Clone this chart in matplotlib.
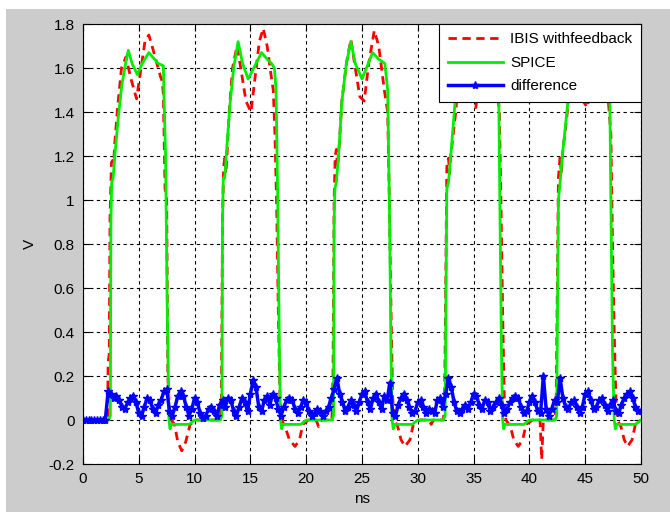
import numpy as np
import matplotlib.pyplot as plt
from matplotlib.patches import Rectangle

plt.rcParams['font.family'] = ['Liberation Sans', 'DejaVu Sans']

# ================= DATA =================

spice_t = [0, 2.3, 2.45, 2.5, 2.57, 2.7, 2.85, 3.17, 3.47, 3.85, 4.06, 4.4, 4.87, 5.3, 5.9, 6.75, 7.2, 7.25, 7.4, 7.55, 7.7, 7.8, 7.9, 9.5, 10.0,
           12.3, 12.45, 12.5, 12.57, 12.7, 12.9, 13.2, 13.5, 13.9, 14.3, 14.8, 15.3, 16.0, 16.5, 16.9, 17.15, 17.3, 17.45, 17.6, 17.7, 17.8, 17.9, 19.5, 20.0,
           22.3, 22.45, 22.5, 22.57, 22.7, 22.9, 23.2, 23.6, 24.0, 24.4, 25.0, 25.4, 25.95, 26.5, 27.05, 27.3, 27.45, 27.6, 27.7, 27.8, 27.9, 29.5, 30.0,
           32.3, 32.45, 32.5, 32.6, 32.75, 32.95, 33.3, 33.6, 34.0, 34.4, 34.9, 35.4, 36.0, 36.5, 37.0, 37.25, 37.35, 37.5, 37.6, 37.7, 37.8, 39.5, 40.0,
           42.3, 42.45, 42.5, 42.6, 42.75, 42.95, 43.4, 43.7, 44.0, 44.4, 44.9, 45.4, 46.0, 46.5, 47.0, 47.2, 47.3, 47.45, 47.6, 47.7, 47.8, 49.5, 50.0]
spice_v = [0, 0, 0.02, 0.9, 1.08, 1.1, 1.2, 1.38, 1.52, 1.63, 1.68, 1.62, 1.57, 1.62, 1.67, 1.62, 1.61, 1.49, 1.2, 0.5, 0.0, -0.04, -0.02, -0.02, 0.0,
           0.0, 0.02, 0.9, 1.1, 1.1, 1.25, 1.45, 1.6, 1.72, 1.62, 1.55, 1.6, 1.67, 1.64, 1.62, 1.6, 1.5, 1.0, 0.3, 0.0, -0.04, -0.02, -0.02, 0.0,
           0.0, 0.02, 0.9, 1.05, 1.08, 1.2, 1.45, 1.62, 1.72, 1.62, 1.55, 1.6, 1.67, 1.64, 1.62, 1.5, 1.0, 0.3, 0.0, -0.04, -0.02, -0.02, 0.0,
           0.0, 0.02, 0.4, 1.05, 1.08, 1.2, 1.42, 1.6, 1.71, 1.62, 1.55, 1.6, 1.66, 1.63, 1.61, 1.5, 1.0, 0.3, 0.0, -0.04, -0.02, -0.02, 0.0,
           0.0, 0.02, 0.4, 1.0, 1.08, 1.2, 1.42, 1.6, 1.71, 1.62, 1.55, 1.6, 1.66, 1.63, 1.61, 1.5, 1.0, 0.3, 0.0, -0.04, -0.02, -0.02, 0.0]

ibis_t = [0, 2.2, 2.25, 2.35, 2.42, 2.55, 2.65, 2.75, 2.85, 3.1, 3.45, 3.85, 4.3, 4.8, 5.2, 5.55, 5.9, 6.3, 6.95, 7.1, 7.2, 7.35, 7.5, 7.6, 7.75, 7.9, 8.2, 8.5, 8.85, 9.2, 9.6, 10.2,
          12.3, 12.4, 12.5, 12.6, 12.7, 12.8, 12.9, 13.1, 13.4, 13.8, 14.2, 14.6, 15.05, 15.4, 15.8, 16.15, 16.5, 16.9, 17.05, 17.2, 17.35, 17.5, 17.65, 17.8, 18.1, 18.5, 19.0, 19.4, 19.7, 20.2, 20.9, 21.1, 21.3,
          22.3, 22.4, 22.5, 22.6, 22.7, 22.8, 22.9, 23.2, 23.6, 24.0, 24.4, 24.8, 25.2, 25.6, 26.1, 26.5, 27.0, 27.3, 27.45, 27.6, 27.75, 27.9, 28.2, 28.5, 28.85, 29.3, 29.6, 30.2, 31.0, 31.2, 31.4,
          32.3, 32.4, 32.5, 32.6, 32.75, 32.85, 32.95, 33.4, 33.7, 34.0, 34.4, 34.8, 35.2, 35.6, 36.1, 36.5, 37.0, 37.3, 37.45, 37.6, 37.75, 37.9, 38.3, 38.6, 39.0, 39.4, 39.7, 40.3, 40.95, 41.1, 41.25,
          42.3, 42.4, 42.5, 42.6, 42.75, 42.85, 42.95, 43.4, 43.7, 44.0, 44.4, 44.8, 45.2, 45.6, 46.1, 46.5, 47.0, 47.3, 47.45, 47.6, 47.75, 47.9, 48.2, 48.5, 48.8, 49.2, 49.5, 50.0]
ibis_v = [0, 0, 0.26, 0.3, 0.92, 1.17, 1.18, 1.17, 1.26, 1.42, 1.6, 1.65, 1.55, 1.46, 1.6, 1.72, 1.75, 1.68, 1.56, 1.54, 1.48, 1.05, 1.0, 0.2, 0.05, 0.0, -0.02, -0.1, -0.14, -0.1, -0.02, 0.0,
          0.0, 0.1, 0.9, 1.15, 1.19, 1.12, 1.2, 1.4, 1.6, 1.7, 1.58, 1.45, 1.4, 1.55, 1.72, 1.78, 1.7, 1.55, 1.5, 1.3, 0.98, 0.5, 0.1, 0.0, -0.03, -0.09, -0.12, -0.09, -0.02, 0.0, 0.0, -0.03, 0.0,
          0.0, 0.2, 1.0, 1.2, 1.23, 1.15, 1.2, 1.45, 1.62, 1.73, 1.6, 1.47, 1.45, 1.62, 1.77, 1.7, 1.5, 1.4, 1.0, 0.5, 0.1, 0.0, -0.03, -0.09, -0.12, -0.09, -0.02, 0.0, 0.0, -0.02, 0.0,
          0.0, 0.1, 0.6, 1.15, 1.19, 1.12, 1.2, 1.4, 1.6, 1.7, 1.58, 1.45, 1.42, 1.58, 1.75, 1.7, 1.5, 1.42, 1.0, 0.5, 0.1, 0.0, -0.03, -0.09, -0.12, -0.09, -0.02, 0.0, 0.0, -0.18, 0.0,
          0.0, 0.1, 0.6, 1.1, 1.2, 1.12, 1.2, 1.4, 1.6, 1.7, 1.58, 1.45, 1.42, 1.58, 1.75, 1.7, 1.5, 1.3, 0.8, 0.4, 0.1, 0.0, -0.03, -0.09, -0.12, -0.09, -0.02, 0.0]

diff_t = np.arange(0, 50.001, 0.25)
diff_v = [0, 0, 0, 0,              # 0 ns
          0, 0, 0, 0,              # 1
          0, 0.13, 0.12, 0.10,     # 2
          0.11, 0.09, 0.06, 0.05,  # 3
          0.08, 0.10, 0.11, 0.08,  # 4
          0.03, 0.02, 0.06, 0.10,  # 5
          0.09, 0.05, 0.03, 0.07,  # 6
          0.09, 0.13, 0.14, 0.04,  # 7
          0.02, 0.06, 0.11, 0.13,  # 8
          0.11, 0.06, 0.02, 0.05,  # 9
          0.10, 0.08, 0.03, 0.01,  # 10
          0.02, 0.05, 0.06, 0.04,  # 11
          0.02, 0.07, 0.09, 0.06,  # 12
          0.10, 0.09, 0.04, 0.02,  # 13
          0.06, 0.10, 0.08, 0.04,  # 14
          0.12, 0.18, 0.15, 0.06,  # 15
          0.04, 0.09, 0.11, 0.07,  # 16
          0.12, 0.10, 0.05, 0.02,  # 17
          0.06, 0.09, 0.10, 0.09,  # 18
          0.05, 0.03, 0.06, 0.09,  # 19
          0.08, 0.04, 0.02, 0.03,  # 20
          0.05, 0.04, 0.02, 0.04,  # 21
          0.06, 0.10, 0.14, 0.19,  # 22
          0.12, 0.08, 0.04, 0.06,  # 23
          0.09, 0.07, 0.04, 0.08,  # 24
          0.12, 0.13, 0.08, 0.05,  # 25
          0.10, 0.12, 0.08, 0.05,  # 26
          0.11, 0.09, 0.17, 0.03,  # 27
          0.02, 0.07, 0.10, 0.12,  # 28
          0.09, 0.06, 0.03, 0.04,  # 29
          0.08, 0.09, 0.06, 0.03,  # 30
          0.05, 0.04, 0.03, 0.09,  # 31
          0.10, 0.06, 0.12, 0.19,  # 32
          0.15, 0.08, 0.04, 0.03,  # 33
          0.05, 0.07, 0.05, 0.08,  # 34
          0.12, 0.11, 0.07, 0.05,  # 35
          0.09, 0.08, 0.04, 0.06,  # 36
          0.08, 0.10, 0.07, 0.03,  # 37
          0.05, 0.08, 0.10, 0.11,  # 38
          0.10, 0.06, 0.03, 0.04,  # 39
          0.08, 0.11, 0.08, 0.04,  # 40
          0.03, 0.20, 0.05, 0.02,  # 41
          0.05, 0.09, 0.08, 0.19,  # 42
          0.10, 0.06, 0.05, 0.08,  # 43
          0.09, 0.06, 0.03, 0.06,  # 44
          0.12, 0.13, 0.09, 0.05,  # 45
          0.06, 0.09, 0.10, 0.07,  # 46
          0.04, 0.07, 0.09, 0.04,  # 47
          0.03, 0.07, 0.10, 0.12,  # 48
          0.13, 0.10, 0.06, 0.04,  # 49
          0.04]                    # 50

x_ticks = [0, 5, 10, 15, 20, 25, 30, 35, 40, 45, 50]
y_ticks = [-0.2, 0, 0.2, 0.4, 0.6, 0.8, 1.0, 1.2, 1.4, 1.6, 1.8]
y_tick_labels = ['-0.2', '0', '0.2', '0.4', '0.6', '0.8', '1', '1.2', '1.4', '1.6', '1.8']

# ================= FIGURE =================

fig = plt.figure(figsize=(6.7, 5.12), dpi=100)
fig.patch.set_facecolor('white')
fig.add_artist(Rectangle((6 / 670, 0), 1, 503 / 512, transform=fig.transFigure,
                         facecolor='#cccccc', edgecolor='none', zorder=-10))

ax = fig.add_axes([83 / 670, 48 / 512, 558 / 670, 440 / 512])

ax.plot(ibis_t, ibis_v, color='red', linestyle=(0, (3, 2)), linewidth=2, label='IBIS withfeedback')
ax.plot(spice_t, spice_v, color='#00ee00', linewidth=2, label='SPICE')
ax.plot(diff_t, diff_v, color='blue', linewidth=2.5, marker='*', markersize=6, label='difference')

ax.set_xlim(0, 50)
ax.set_ylim(-0.2, 1.8)
ax.set_xticks(x_ticks)
ax.set_xticklabels([str(t) for t in x_ticks])
ax.set_yticks(y_ticks)
ax.set_yticklabels(y_tick_labels)
ax.tick_params(direction='in', length=5, top=True, right=True, labelsize=11, pad=6, colors='black')
ax.grid(True, color='black', linestyle=(0, (3, 3)), linewidth=0.8)
for s in ax.spines.values():
    s.set_linewidth(0.8)

ax.set_xlabel('ns', fontsize=11, labelpad=4)
ax.set_ylabel('V', fontsize=11, labelpad=8)

leg = ax.legend(loc='upper right', fontsize=11, handlelength=3.6, handletextpad=0.5,
                fancybox=False, framealpha=1, edgecolor='black', borderaxespad=0,
                labelspacing=0.62, borderpad=0.55)
leg.get_frame().set_linewidth(0.8)

plt.savefig('out.png', dpi=100)
